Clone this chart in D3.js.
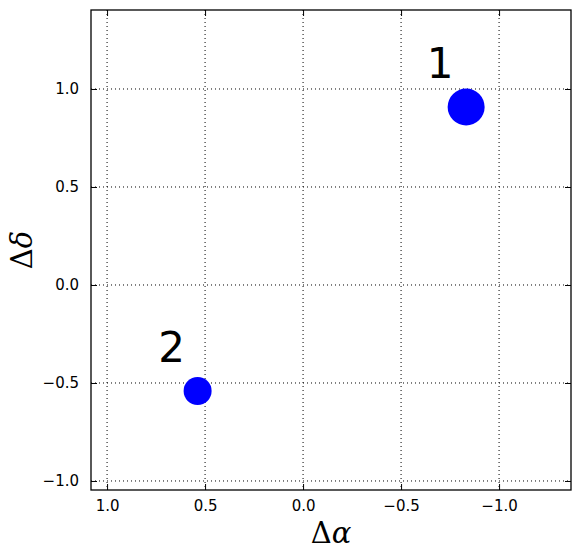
<!DOCTYPE html>
<html>
<head>
<meta charset="utf-8">
<script src="https://cdn.jsdelivr.net/npm/d3@7"></script>
<style>
  body { margin: 0; background: #fff; }
  svg { display: block; }
  .tick text { font-family: "DejaVu Sans", sans-serif; font-size: 15px; fill: #000; }
  .grid line { stroke: #000; stroke-width: 1; stroke-dasharray: 1,3; }
  .axis-label { font-family: "DejaVu Serif", serif; font-style: italic; font-size: 29px; }
</style>
</head>
<body>
<script>
// Source positions (offsets) and labels
const labels = ["1", "2"];
const dAlpha = [-0.832, 0.538];
const dDelta = [0.908, -0.541];
const sizes = [18.5, 14];

// Axis ticks
const xTicks = [1.0, 0.5, 0.0, -0.5, -1.0];
const yTicks = [-1.0, -0.5, 0.0, 0.5, 1.0];

const W = 580, H = 558;
const margin = { left: 91, right: 9, top: 10, bottom: 68 };
const w = W - margin.left - margin.right;
const h = H - margin.top - margin.bottom;

const svg = d3.select("body").append("svg")
  .attr("width", W)
  .attr("height", H);

// reversed x (RA increases to the left)
const xScale = d3.scaleLinear().domain([1.082, -1.367]).range([0, w]);
const yScale = d3.scaleLinear().domain([-1.046, 1.403]).range([h, 0]);

const g = svg.append("g").attr("transform", `translate(${margin.left},${margin.top})`);

const fmt = d => d3.format(".1f")(d).replace("-", "\u2212");

// grid
g.append("g").attr("class", "grid")
  .selectAll("line.gx").data(xTicks).enter().append("line")
  .attr("x1", d => xScale(d)).attr("x2", d => xScale(d))
  .attr("y1", 0).attr("y2", h);
g.append("g").attr("class", "grid")
  .selectAll("line.gy").data(yTicks).enter().append("line")
  .attr("y1", d => yScale(d)).attr("y2", d => yScale(d))
  .attr("x1", 0).attr("x2", w);

// axes with inward ticks on all sides
const xAxis = d3.axisBottom(xScale).tickValues(xTicks).tickFormat(fmt).tickSizeInner(-6).tickSizeOuter(0).tickPadding(10);
const yAxis = d3.axisLeft(yScale).tickValues(yTicks).tickFormat(fmt).tickSizeInner(-6).tickSizeOuter(0).tickPadding(12);
const xTop = d3.axisTop(xScale).tickValues(xTicks).tickFormat("").tickSizeInner(-6).tickSizeOuter(0);
const yRight = d3.axisRight(yScale).tickValues(yTicks).tickFormat("").tickSizeInner(-6).tickSizeOuter(0);

g.append("g").attr("transform", `translate(0,${h})`).call(xAxis);
g.append("g").call(yAxis);
g.append("g").call(xTop);
g.append("g").attr("transform", `translate(${w},0)`).call(yRight);
g.selectAll(".domain").remove();
g.selectAll(".tick line").attr("stroke", "#000");
g.selectAll(".tick text").style("font-size", "15px");

// points
const pts = labels.map((l, i) => ({ l, x: dAlpha[i], y: dDelta[i], r: sizes[i] }));
g.selectAll("circle.src").data(pts).enter().append("circle")
  .attr("class", "src")
  .attr("cx", d => xScale(d.x))
  .attr("cy", d => yScale(d.y))
  .attr("r", d => d.r)
  .attr("fill", "#0000ff");

g.selectAll("text.num").data(pts).enter().append("text")
  .attr("class", "num")
  .attr("x", d => xScale(d.x) - 26)
  .attr("y", d => yScale(d.y) - 29)
  .attr("text-anchor", "middle")
  .style("font-family", "DejaVu Sans, sans-serif")
  .style("font-size", "42px")
  .text(d => d.l);

// frame
g.append("rect")
  .attr("width", w).attr("height", h)
  .attr("fill", "none").attr("stroke", "#000").attr("stroke-width", 1.3);

// axis titles
svg.append("text")
  .attr("class", "axis-label")
  .attr("x", margin.left + w / 2)
  .attr("y", 543)
  .attr("text-anchor", "middle")
  .html('<tspan font-style="normal">\u0394</tspan>\u03b1');

svg.append("text")
  .attr("class", "axis-label")
  .attr("transform", `translate(32,${margin.top + h / 2}) rotate(-90)`)
  .attr("text-anchor", "middle")
  .html('<tspan font-style="normal">\u0394</tspan>\u03b4');
</script>
</body>
</html>
